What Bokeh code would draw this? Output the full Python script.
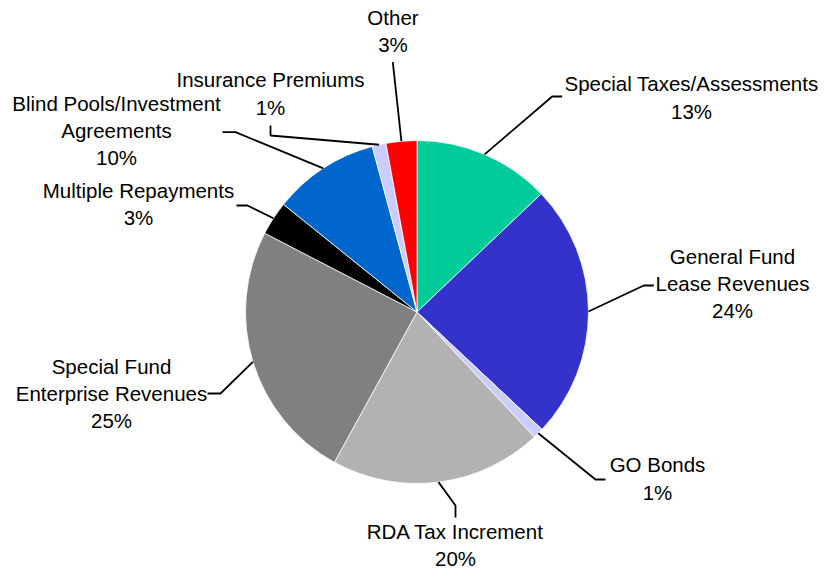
import math
from bokeh.plotting import figure
from bokeh.models import Range1d, ColumnDataSource
from bokeh.core.properties import value
from bokeh.embed import file_html
from bokeh.resources import INLINE

# ---------------- data ----------------
categories = [
    "Special Taxes/Assessments",
    "General Fund\nLease Revenues",
    "GO Bonds",
    "RDA Tax Increment",
    "Special Fund\nEnterprise Revenues",
    "Multiple Repayments",
    "Blind Pools/Investment\nAgreements",
    "Insurance Premiums",
    "Other",
]
shares = [12.9, 24.1, 1.0, 20.0, 24.6, 3.2, 10.0, 1.3, 2.9]
colors = ["#00CC99", "#3333CC", "#CCCCFF", "#B2B2B2", "#808080",
          "#000000", "#0066CC", "#CCCCFF", "#FF0000"]

# ---------------- layout (screen pixel coordinates) ----------------
W, H = 825, 571


def sy(y):
    return H - y


CX, CY, R = 416.5, sy(311.5), 171.5
LINE_GAP = 27.3
FONT_PX = "20.5px"
TEXT_SHIFT = -7.5

# first-baseline centre for each label block
label_anchor = [
    (691, 90.7), (732, 263), (657, 471.7), (455, 538.5), (111, 373.3),
    (138, 197.3), (116, 110), (270, 86.7), (392.5, 24),
]
# leader line points after the pie-edge start point
leader_pts = [
    [(551.7, 96), (561.7, 96)],
    [(643.3, 285), (653.3, 285)],
    [(595, 479), (605, 479)],
    [(455, 505), (455, 517)],
    [(220, 393), (207, 393)],
    [(247, 205), (236, 205)],
    [(235, 131.7), (222, 131.7)],
    [(270, 135), (270, 125)],
    [(392.3, 61.7)],
]

total = sum(shares)
starts, ends, mids = [], [], []
cum = 0.0
for v in shares:
    a0 = math.pi / 2 - 2 * math.pi * cum / total
    cum += v
    a1 = math.pi / 2 - 2 * math.pi * cum / total
    starts.append(a0)
    ends.append(a1)
    mids.append((a0 + a1) / 2)

p = figure(width=W, height=H, x_range=Range1d(0, W), y_range=Range1d(0, H),
           output_backend="svg", toolbar_location=None, min_border=0,
           x_axis_type=None, y_axis_type=None)
p.grid.visible = False
p.outline_line_color = None
p.background_fill_color = "white"

src = ColumnDataSource(dict(start=starts, end=ends, color=colors, name=categories))
p.wedge(x=CX, y=CY, radius=R, start_angle="start", end_angle="end", direction="clock",
        fill_color="color", line_color="white", line_width=0.8, source=src)

# leader lines
lx, ly = [], []
for m, pts in zip(mids, leader_pts):
    xs = [CX + R * math.cos(m)]
    ys = [CY + R * math.sin(m)]
    for (px, py) in pts:
        xs.append(px)
        ys.append(sy(py))
    lx.append(xs)
    ly.append(ys)
p.multi_line(lx, ly, line_color="black", line_width=1.8)

# labels
tx, ty, tt = [], [], []
for name, v, (ax, ay) in zip(categories, shares, label_anchor):
    lines = name.split("\n") + [f"{round(v)}%"]
    for i, s in enumerate(lines):
        tx.append(ax)
        ty.append(sy(ay + i * LINE_GAP + TEXT_SHIFT))
        tt.append(s)
p.text(x=tx, y=ty, text=tt, text_align="center", text_baseline="alphabetic",
       text_font=value("Liberation Sans"), text_font_size=FONT_PX, text_color="black")

open("out.html", "w").write(file_html(p, INLINE))
